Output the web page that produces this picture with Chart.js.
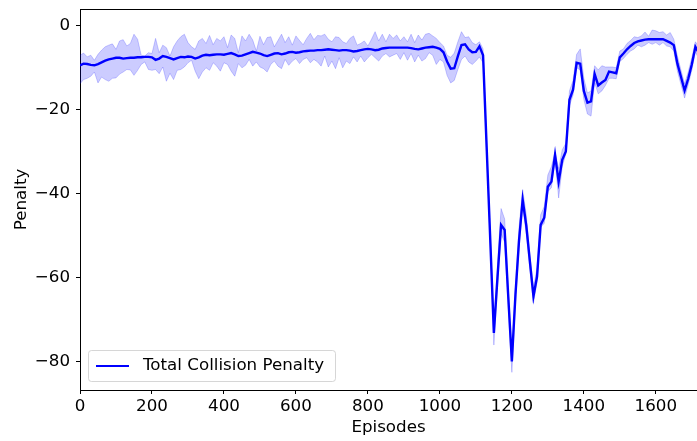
<!DOCTYPE html>
<html><head><meta charset="utf-8">
<script src="https://cdn.jsdelivr.net/npm/chart.js@4.4.1/dist/chart.umd.min.js"></script>
<style>
html,body{margin:0;padding:0;background:#fff;overflow:hidden;width:697px;height:441px}
#wrap{position:relative;width:700px;height:441px}
</style></head>
<body><div id="wrap"><canvas id="c" width="700" height="441"></canvas></div>
<script>
const episodes = [
0,10,20,30,40,50,60,70,80,90,
100,110,120,130,140,150,160,170,180,190,
200,210,220,230,240,250,260,270,280,290,
300,310,320,330,340,350,360,370,380,390,
400,410,420,430,440,450,460,470,480,490,
500,510,520,530,540,550,560,570,580,590,
600,610,620,630,640,650,660,670,680,690,
700,710,720,730,740,750,760,770,780,790,
800,810,820,830,840,850,860,870,880,890,
900,910,920,930,940,950,960,970,980,990,
1000,1010,1020,1030,1040,1050,1060,1070,1080,1090,
1100,1110,1120,1130,1140,1150,1160,1170,1180,1190,
1200,1210,1220,1230,1240,1250,1260,1270,1280,1290,
1300,1310,1320,1330,1340,1350,1360,1370,1380,1390,
1400,1410,1420,1430,1440,1450,1460,1470,1480,1490,
1500,1510,1520,1530,1540,1550,1560,1570,1580,1590,
1600,1610,1620,1630,1640,1650,1660,1670,1680,1690,
1700,1710,1720];

const meanPenalty = [
-9.4,-9.0,-9.1,-9.3,-9.4,-9.1,-8.7,-8.3,-8.0,-7.8,
-7.6,-7.6,-7.8,-7.7,-7.6,-7.6,-7.5,-7.5,-7.4,-7.4,
-7.5,-8.1,-7.8,-7.2,-7.4,-7.7,-8.0,-7.7,-7.4,-7.5,
-7.3,-7.4,-7.8,-7.5,-7.1,-6.9,-7.0,-6.9,-6.8,-6.8,
-6.9,-6.7,-6.5,-6.8,-7.2,-7.1,-6.8,-6.5,-6.2,-6.4,
-6.6,-7.0,-7.2,-6.9,-6.6,-6.5,-6.8,-6.6,-6.3,-6.2,
-6.4,-6.3,-6.1,-6.0,-5.9,-5.9,-5.8,-5.8,-5.7,-5.6,
-5.7,-5.8,-5.9,-5.8,-5.8,-5.9,-6.1,-6.0,-5.8,-5.6,
-5.5,-5.6,-5.8,-5.7,-5.4,-5.3,-5.2,-5.2,-5.2,-5.2,
-5.2,-5.2,-5.3,-5.5,-5.6,-5.4,-5.2,-5.1,-5.0,-5.2,
-5.5,-6.3,-8.5,-10.2,-10.1,-7.2,-4.6,-4.4,-5.6,-6.3,
-6.2,-4.9,-7.0,-29.0,-51.0,-73.1,-60.0,-47.4,-48.6,-64.5,
-79.9,-64.0,-51.0,-41.4,-47.5,-56.0,-64.4,-59.7,-47.4,-45.7,
-38.3,-37.1,-30.7,-37.1,-31.9,-29.9,-17.6,-15.2,-8.8,-9.0,
-15.5,-18.3,-18.0,-11.5,-14.2,-13.5,-12.9,-10.9,-11.1,-11.3,
-7.5,-6.6,-5.6,-4.8,-4.1,-3.7,-3.5,-3.3,-3.2,-3.2,
-3.2,-3.2,-3.2,-3.6,-4.0,-4.6,-9.0,-12.2,-15.4,-12.6,
-9.2,-5.0,-6.5];

const upperPenalty = [
-7.0,-6.5,-7.4,-7.0,-8.2,-6.8,-5.8,-5.0,-4.6,-4.3,
-5.6,-3.6,-3.3,-4.8,-4.2,-2.0,-3.2,-7.0,-7.2,-6.4,
-6.6,-3.0,-6.4,-4.6,-5.2,-7.2,-5.0,-3.6,-2.6,-2.0,
-4.0,-5.0,-5.6,-3.6,-3.0,-4.2,-2.3,-4.5,-3.0,-3.6,
-2.6,-5.2,-2.2,-3.0,-6.4,-2.4,-3.6,-2.0,-3.4,-6.0,
-2.5,-4.5,-2.8,-2.6,-5.0,-3.5,-2.0,-4.0,-2.6,-4.6,
-2.4,-3.5,-4.5,-3.0,-1.8,-3.3,-2.3,-2.4,-2.0,-3.2,
-3.8,-2.6,-2.8,-3.8,-4.2,-3.0,-2.4,-4.6,-4.2,-3.6,
-4.8,-3.2,-1.4,-3.6,-2.0,-3.8,-2.0,-3.0,-2.2,-3.6,
-2.6,-3.8,-2.0,-4.0,-2.2,-3.4,-2.0,-1.8,-2.4,-3.0,
-4.0,-4.8,-7.0,-7.5,-6.5,-3.8,-1.4,-2.8,-2.6,-4.0,
-4.5,-3.8,-5.5,-28.0,-50.0,-71.0,-57.0,-43.5,-46.0,-62.5,
-78.0,-62.0,-48.0,-39.0,-45.0,-54.5,-62.5,-57.5,-45.0,-43.0,
-35.5,-33.5,-30.0,-34.0,-29.5,-28.0,-15.5,-13.0,-6.8,-5.5,
-12.5,-16.0,-15.5,-9.5,-10.5,-9.5,-9.8,-9.8,-9.8,-10.0,
-6.0,-5.5,-4.2,-3.5,-2.6,-2.8,-2.4,-1.5,-2.5,-1.0,
-1.2,-1.6,-1.4,-2.2,-1.6,-3.2,-7.2,-10.6,-13.8,-11.0,
-7.6,-3.8,-5.0];

const lowerPenalty = [
-13.8,-12.8,-12.5,-12.0,-11.0,-13.6,-12.2,-12.8,-13.2,-12.5,
-12.4,-11.5,-11.0,-10.4,-10.5,-11.8,-10.6,-9.2,-8.6,-10.4,
-10.6,-10.4,-11.4,-9.8,-13.2,-11.3,-12.8,-10.6,-10.4,-9.8,
-8.8,-8.2,-10.8,-12.6,-11.0,-10.0,-10.6,-8.8,-9.6,-10.8,
-8.8,-9.2,-10.8,-12.0,-9.0,-10.0,-9.4,-8.0,-9.6,-8.6,
-9.8,-10.2,-11.0,-9.2,-8.4,-9.6,-10.2,-8.0,-9.4,-8.4,
-7.8,-9.0,-8.0,-7.6,-8.8,-8.0,-8.6,-9.6,-7.2,-9.8,
-8.4,-10.2,-7.6,-10.0,-8.4,-9.0,-7.4,-8.6,-7.2,-8.6,
-7.6,-6.8,-7.6,-8.4,-7.2,-6.6,-7.4,-7.0,-6.6,-8.0,
-6.4,-8.2,-6.6,-8.6,-7.0,-8.4,-7.8,-6.4,-7.0,-9.2,
-8.0,-8.6,-11.8,-13.6,-13.0,-10.4,-8.0,-7.2,-8.6,-9.2,
-8.4,-7.4,-8.8,-30.0,-52.0,-76.0,-62.0,-49.5,-51.5,-67.0,
-82.5,-66.0,-53.0,-43.0,-49.5,-58.0,-66.0,-61.0,-48.0,-47.0,
-39.5,-38.5,-32.0,-41.0,-33.5,-30.5,-19.0,-16.5,-10.0,-10.5,
-17.5,-21.0,-21.5,-13.5,-16.2,-15.5,-14.2,-12.5,-12.5,-12.6,
-8.5,-7.8,-6.8,-6.0,-5.5,-4.6,-5.0,-4.6,-4.0,-4.4,
-4.0,-4.6,-4.0,-4.8,-5.0,-6.0,-10.8,-14.0,-17.2,-14.0,
-10.6,-6.2,-8.0];

const xTicks = [0, 200, 400, 600, 800, 1000, 1200, 1400, 1600];
const yTicks = [-80, -60, -40, -20, 0];
const seriesName = 'Total Collision Penalty';
const xTitle = 'Episodes';
const yTitle = 'Penalty';

const FONT = 'DejaVu Sans';
const FSIZE = 16.7;
const pts = arr => arr.map((v, i) => ({x: episodes[i], y: v}));
const fmt = v => (v < 0 ? '\u2212' + Math.abs(v) : String(v));

const framePlugin = {
  id: 'frame',
  afterDraw(chart) {
    const {ctx, chartArea: a} = chart;
    ctx.save();
    ctx.strokeStyle = '#000';
    ctx.lineWidth = 1;
    ctx.beginPath();
    ctx.moveTo(Math.round(a.left) + 0.5, Math.round(a.top) + 0.5);
    ctx.lineTo(Math.round(a.right) + 0.5, Math.round(a.top) + 0.5);
    ctx.lineTo(Math.round(a.right) + 0.5, Math.round(a.bottom) + 0.5);
    ctx.stroke();
    // axis titles
    ctx.fillStyle = '#000';
    ctx.font = FSIZE + 'px "' + FONT + '"';
    ctx.textAlign = 'center';
    ctx.textBaseline = 'middle';
    ctx.fillText(xTitle, (a.left + a.right) / 2 - 1, 428);
    ctx.save();
    ctx.translate(22, (a.top + a.bottom) / 2);
    ctx.rotate(-Math.PI / 2);
    ctx.fillText(yTitle, 0, 0);
    ctx.restore();
    // legend
    const lx = 88.5, ly = 350.5, lw = 247, lh = 31, r = 3;
    ctx.beginPath();
    ctx.moveTo(lx + r, ly);
    ctx.lineTo(lx + lw - r, ly);
    ctx.arcTo(lx + lw, ly, lx + lw, ly + r, r);
    ctx.lineTo(lx + lw, ly + lh - r);
    ctx.arcTo(lx + lw, ly + lh, lx + lw - r, ly + lh, r);
    ctx.lineTo(lx + r, ly + lh);
    ctx.arcTo(lx, ly + lh, lx, ly + lh - r, r);
    ctx.lineTo(lx, ly + r);
    ctx.arcTo(lx, ly, lx + r, ly, r);
    ctx.closePath();
    ctx.fillStyle = 'rgba(255,255,255,0.8)';
    ctx.fill();
    ctx.strokeStyle = 'rgba(204,204,204,0.8)';
    ctx.stroke();
    ctx.strokeStyle = '#0000ff';
    ctx.lineWidth = 2.2;
    ctx.beginPath();
    ctx.moveTo(96, 366);
    ctx.lineTo(129, 366);
    ctx.stroke();
    ctx.fillStyle = '#000';
    ctx.textAlign = 'left';
    ctx.fillText(seriesName, 143, 366);
    ctx.restore();
  }
};

new Chart(document.getElementById('c'), {
  type: 'line',
  data: {
    datasets: [
      {label: 'upper', data: pts(upperPenalty), borderColor: 'rgba(0,0,255,0.2)', borderWidth: 1,
       backgroundColor: 'rgba(0,0,255,0.2)', pointRadius: 0, fill: '+1', tension: 0, order: 2},
      {label: 'lower', data: pts(lowerPenalty), borderColor: 'rgba(0,0,255,0.2)', borderWidth: 1,
       backgroundColor: 'rgba(0,0,255,0.2)', pointRadius: 0, fill: false, tension: 0, order: 2},
      {label: seriesName, data: pts(meanPenalty), borderColor: '#0000ff', borderWidth: 2.4,
       pointRadius: 0, fill: false, tension: 0, order: 1}
    ]
  },
  options: {
    responsive: false,
    animation: false,
    devicePixelRatio: 1,
    layout: {padding: {top: 9, right: 1, left: 0, bottom: 0}},
    plugins: {legend: {display: false}, tooltip: {enabled: false}},
    scales: {
      x: {
        type: 'linear', min: 0, max: 1720,
        afterBuildTicks: s => { s.ticks = xTicks.map(v => ({value: v})); },
        afterFit: s => { s.height = 51; s.paddingLeft = 0; s.paddingRight = 0; },
        ticks: {color: '#000', font: {family: FONT, size: FSIZE}, padding: 3, maxRotation: 0, autoSkip: false,
                callback: v => fmt(v)},
        grid: {display: true, drawOnChartArea: false, drawTicks: true, tickLength: 4, tickColor: '#000', tickWidth: 1},
        border: {display: true, color: '#000', width: 1}
      },
      y: {
        type: 'linear', min: -86.7, max: 4.0,
        afterBuildTicks: s => { s.ticks = yTicks.map(v => ({value: v})); },
        afterFit: s => { s.width = 80; s.paddingTop = 0; s.paddingBottom = 0; },
        ticks: {color: '#000', font: {family: FONT, size: FSIZE}, padding: 6, autoSkip: false,
                callback: v => fmt(v)},
        grid: {display: true, drawOnChartArea: false, drawTicks: true, tickLength: 4, tickColor: '#000', tickWidth: 1},
        border: {display: true, color: '#000', width: 1}
      }
    }
  },
  plugins: [framePlugin]
});
</script></body></html>
